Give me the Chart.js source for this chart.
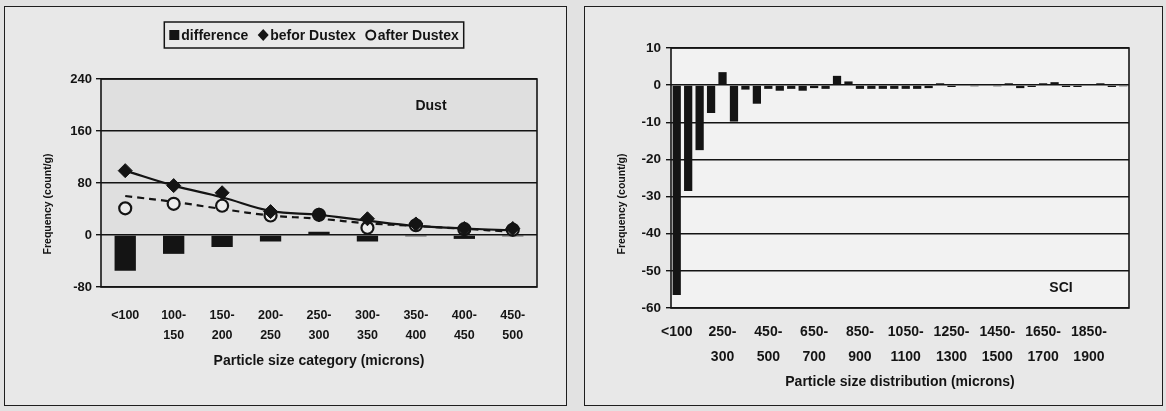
<!DOCTYPE html>
<html lang="en">
<head>
<meta charset="UTF-8">
<title>Particle size frequency - Dust / SCI</title>
<script src="https://cdn.jsdelivr.net/npm/chart.js"></script>
<style>
    body {
        margin: 0;
        width: 1166px;
        height: 411px;
        overflow: hidden;
        position: relative;
        background: #e2e2e2;
    }
    .panel {
        position: absolute;
        box-sizing: border-box;
        border: 1.5px solid #1e1e1e;
        background: #e8e8e8;
    }
    .wrap {
        position: absolute;
        top: 0;
        height: 411px;
    }
</style>
</head>
<body>
<div class="panel" style="left:4px; top:6px; width:563px; height:400px;"></div>
<div class="panel" style="left:584px; top:6px; width:579px; height:400px;"></div>
<div class="wrap" style="left:0; width:575px;"><canvas id="dustChart"></canvas></div>
<div class="wrap" style="left:585px; width:581px;"><canvas id="sciChart"></canvas></div>

<script>
// left panel: Dust
const dustCategories = ['<100', '100-150', '150-200', '200-250', '250-300', '300-350', '350-400', '400-450', '450-500'];
const dustDifference = [-55, -29, -18.5, -10, 5, -10, -2, -6, -2];
const dustBefore = [99, 76, 65, 36, 31, 25, 17, 10, 10];
const dustAfter = [41, 48, 45, 30, 31, 11, 15, 9, 8];
const dustBeforeTrend = [99, 76, 58, 37, 31, 22, 14, 10, 7];
const dustAfterTrend = [60, 51, 40, 30, 25, 18, 14, 9.5, 5];
const dustTicks = [-80, 0, 80, 160, 240];

// right panel: SCI
const sciCategories = ['<100', '100-150', '150-200', '200-250', '250-300', '300-350', '350-400', '400-450',
    '450-500', '500-550', '550-600', '600-650', '650-700', '700-750', '750-800', '800-850',
    '850-900', '900-950', '950-1000', '1000-1050', '1050-1100', '1100-1150', '1150-1200', '1200-1250',
    '1250-1300', '1300-1350', '1350-1400', '1400-1450', '1450-1500', '1500-1550', '1550-1600', '1600-1650',
    '1650-1700', '1700-1750', '1750-1800', '1800-1850', '1850-1900', '1900-1950', '1950-2000', '2000-2050'];
const sciDifference = [-56.5, -28.5, -17.5, -7.5, 3.5, -9.8, -1.2, -5, -1, -1.5,
    -1, -1.5, -0.8, -1, 2.5, 1, -1, -1, -1, -1,
    -1, -1, -0.8, 0.5, -0.5, 0.3, -0.3, 0, -0.3, 0.5,
    -0.8, -0.5, 0.5, 0.8, -0.5, -0.5, 0.3, 0.5, -0.5, -0.3];
const sciTicks = [-60, -50, -40, -30, -20, -10, 0, 10];

const INK = '#141414';
const FONT = "'Liberation Sans', Arial, sans-serif";

// split "100-150" into two lines like the original
function twoLines(lab) {
    const i = lab.indexOf('-');
    return i < 0 ? lab : [lab.slice(0, i + 1), lab.slice(i + 1)];
}

// plot background, frame, the y title (sits low, as in the scan) and the label inside the plot
const plotFrame = {
    id: 'plotFrame',
    beforeDraw(chart, args, opts) {
        const { ctx, chartArea: a } = chart;
        ctx.save();
        ctx.fillStyle = opts.fill;
        ctx.fillRect(a.left, a.top, a.width, a.height);
        ctx.restore();
    },
    afterDraw(chart, args, opts) {
        const { ctx, chartArea: a } = chart;
        ctx.save();
        ctx.strokeStyle = INK;
        ctx.lineWidth = 1.6;
        ctx.strokeRect(a.left, a.top, a.width, a.height);
        ctx.fillStyle = INK;
        ctx.textAlign = 'center';
        ctx.textBaseline = 'middle';
        if (opts.note) {
            ctx.font = 'bold 14px ' + FONT;
            ctx.fillText(opts.note.text, opts.note.x, opts.note.y);
        }
        if (opts.yTitle) {
            ctx.font = 'bold 10.5px ' + FONT;
            ctx.translate(opts.yTitle.x, opts.yTitle.y);
            ctx.rotate(-Math.PI / 2);
            ctx.fillText(opts.yTitle.text, 0, 0);
        }
        ctx.restore();
    }
};

// boxed legend above the plot (Excel style)
const boxedLegend = {
    id: 'boxedLegend',
    afterDraw(chart, args, opts) {
        if (!opts.show) return;
        const ctx = chart.ctx;
        const items = chart.data.datasets.filter(d => d.legendSymbol);
        const sym = 10, gap = 2, sep = 10, pad = 5;
        ctx.save();
        ctx.font = 'bold 14px ' + FONT;
        let total = 0;
        items.forEach((d, i) => {
            total += sym + gap + ctx.measureText(d.label).width + (i ? sep : 0);
        });
        const w = total + pad * 2;
        let x = opts.cx - w / 2;
        const y = opts.top, h = opts.height, cy = y + h / 2;
        ctx.strokeStyle = INK;
        ctx.lineWidth = 1.5;
        ctx.strokeRect(x, y, w, h);
        x += pad;
        items.forEach(d => {
            const px = x + sym / 2;
            ctx.fillStyle = INK;
            ctx.strokeStyle = INK;
            ctx.beginPath();
            if (d.legendSymbol === 'square') {
                ctx.rect(x, cy - sym / 2, sym, sym);
                ctx.fill();
            } else if (d.legendSymbol === 'diamond') {
                ctx.moveTo(px, cy - 6);
                ctx.lineTo(px + 5.5, cy);
                ctx.lineTo(px, cy + 6);
                ctx.lineTo(px - 5.5, cy);
                ctx.closePath();
                ctx.fill();
            } else {
                ctx.lineWidth = 2;
                ctx.arc(px, cy, 4.5, 0, Math.PI * 2);
                ctx.stroke();
            }
            x += sym + gap;
            ctx.textBaseline = 'middle';
            ctx.fillText(d.label, x, cy + 1);
            x += ctx.measureText(d.label).width + sep;
        });
        ctx.restore();
    }
};

Chart.register(plotFrame, boxedLegend);
Chart.defaults.font.family = FONT;
Chart.defaults.color = INK;
Chart.defaults.animation = false;

const bold = size => ({ family: FONT, size: size, weight: 'bold' });

new Chart(document.getElementById('dustChart'), {
    type: 'bar',
    data: {
        labels: dustCategories,
        datasets: [
            {
                label: 'difference',
                legendSymbol: 'square',
                data: dustDifference,
                backgroundColor: INK,
                barPercentage: 0.44,
                categoryPercentage: 1,
                order: 3
            },
            {
                type: 'line',
                label: 'befor Dustex',
                legendSymbol: 'diamond',
                data: dustBefore,
                showLine: false,
                pointStyle: 'rectRot',
                pointRadius: 7,
                pointBackgroundColor: INK,
                pointBorderColor: INK,
                order: 0
            },
            {
                type: 'line',
                label: 'after Dustex',
                legendSymbol: 'circle',
                data: dustAfter,
                showLine: false,
                pointStyle: 'circle',
                pointRadius: 6,
                pointBorderWidth: 2.2,
                pointBackgroundColor: '#ececec',
                pointBorderColor: INK,
                order: 1
            },
            {
                type: 'line',
                label: 'befor trend',
                data: dustBeforeTrend,
                borderColor: INK,
                borderWidth: 2.2,
                pointRadius: 0,
                tension: 0.4,
                order: 2
            },
            {
                type: 'line',
                label: 'after trend',
                data: dustAfterTrend,
                borderColor: INK,
                borderWidth: 2.2,
                borderDash: [7, 5],
                pointRadius: 0,
                tension: 0.4,
                order: 2
            }
        ]
    },
    options: {
        responsive: true,
        maintainAspectRatio: false,
        layout: { padding: { top: 79, left: 0, right: 38, bottom: 34 } },
        plugins: {
            legend: { display: false },
            tooltip: { enabled: false },
            plotFrame: {
                fill: '#dfdfdf',
                note: { text: 'Dust', x: 431, y: 106 },
                yTitle: { text: 'Frequency (count/g)', x: 48, y: 204 }
            },
            boxedLegend: { show: true, cx: 314, top: 22, height: 26 }
        },
        scales: {
            x: {
                grid: { display: false, drawTicks: false },
                border: { display: false },
                ticks: {
                    font: { ...bold(12.5), lineHeight: 1.6 },
                    color: INK,
                    padding: 19,
                    maxRotation: 0,
                    minRotation: 0,
                    autoSkip: false,
                    callback: function (v) { return twoLines(this.getLabelForValue(v)); }
                },
                title: {
                    display: true,
                    text: 'Particle size category (microns)',
                    font: bold(14),
                    color: INK,
                    padding: { top: 0, bottom: 7 }
                },
                afterFit: s => { s.height = 90; }
            },
            y: {
                min: dustTicks[0],
                max: dustTicks[dustTicks.length - 1],
                ticks: { stepSize: dustTicks[1] - dustTicks[0], font: bold(13), color: INK, padding: 4 },
                grid: { color: INK, lineWidth: 1.4, tickLength: 5 },
                border: { display: false },
                afterFit: s => { s.width = 101; }
            }
        }
    }
});

new Chart(document.getElementById('sciChart'), {
    type: 'bar',
    data: {
        labels: sciCategories,
        datasets: [{
            label: 'difference',
            data: sciDifference,
            backgroundColor: INK,
            barPercentage: 0.72,
            categoryPercentage: 1
        }]
    },
    options: {
        responsive: true,
        maintainAspectRatio: false,
        layout: { padding: { top: 48, left: 0, right: 37, bottom: 13 } },
        plugins: {
            legend: { display: false },
            tooltip: { enabled: false },
            plotFrame: {
                fill: '#f2f2f2',
                note: { text: 'SCI', x: 476, y: 288 },
                yTitle: { text: 'Frequency (count/g)', x: 37, y: 204 }
            },
            boxedLegend: { show: false }
        },
        scales: {
            x: {
                grid: { display: false, drawTicks: false },
                border: { display: false },
                ticks: {
                    font: { ...bold(14), lineHeight: 1.75 },
                    color: INK,
                    padding: 12,
                    maxRotation: 0,
                    minRotation: 0,
                    autoSkip: false,
                    callback: function (v, i) { return i % 4 === 0 ? twoLines(this.getLabelForValue(v)) : ''; }
                },
                title: {
                    display: true,
                    text: 'Particle size distribution (microns)',
                    font: bold(14),
                    color: INK,
                    padding: { top: 0, bottom: 7 }
                },
                afterFit: s => { s.height = 90; }
            },
            y: {
                min: sciTicks[0],
                max: sciTicks[sciTicks.length - 1],
                ticks: { stepSize: sciTicks[1] - sciTicks[0], font: bold(13.5), color: INK, padding: 5 },
                grid: { color: INK, lineWidth: 1.4, tickLength: 5 },
                border: { display: false },
                afterFit: s => { s.width = 86; }
            }
        }
    }
});
</script>
</body>
</html>
